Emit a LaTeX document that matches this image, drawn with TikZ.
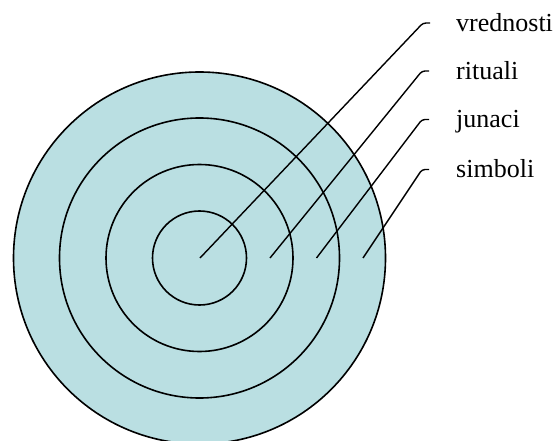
\documentclass[tikz,border=0pt]{standalone}
\usepackage{fontspec}
\setmainfont{Liberation Serif}
\definecolor{ringfill}{RGB}{186,223,226}
\begin{document}
\begin{tikzpicture}[x=1pt,y=-1pt,
  ring/.style={draw=black,line width=1.6pt},
  leader/.style={draw=black,line width=1.4pt,rounded corners=3pt},
  lbl/.style={anchor=base west,inner sep=0pt,font=\fontsize{26}{31}\selectfont}]
\useasboundingbox (0,0) rectangle (557,441);
\coordinate (c) at (199.5,258);
\fill[ringfill] (c) circle[radius=186];
\draw[ring] (c) circle[radius=186];
\draw[ring] (c) circle[radius=140];
\draw[ring] (c) circle[radius=93.5];
\draw[ring] (c) circle[radius=47];
% start points
\coordinate (s1) at (200,258);
\coordinate (s2) at (270,258);
\coordinate (s3) at (316.5,258);
\coordinate (s4) at (363,258);
% corners
\coordinate (k1) at (423,23);
\coordinate (k2) at (422,71);
\coordinate (k3) at (422,119.5);
\coordinate (k4) at (422,169.5);
% labels
\node[lbl] (v) at (456,31.5) {vrednosti};
\node[lbl] (r) at (456,79.5) {rituali};
\node[lbl] (j) at (456,128) {junaci};
\node[lbl] (s) at (456,178) {simboli};
\coordinate (e1) at (430,23);
\coordinate (e2) at (429,71);
\coordinate (e3) at (429,119.5);
\coordinate (e4) at (429,169.5);
\draw[leader] (s1) -- (k1) -- (e1);
\draw[leader] (s2) -- (k2) -- (e2);
\draw[leader] (s3) -- (k3) -- (e3);
\draw[leader] (s4) -- (k4) -- (e4);
\end{tikzpicture}
\end{document}
